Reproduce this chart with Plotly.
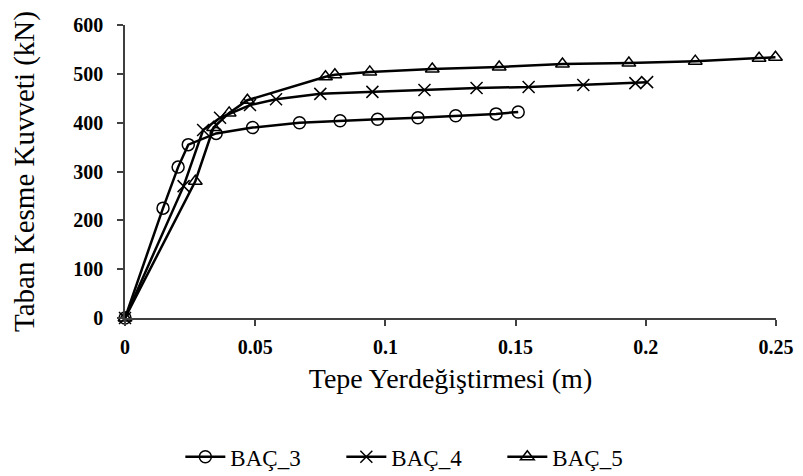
import plotly.graph_objects as go

# Data
bac3_x = [0, 0.0146, 0.0204, 0.0243, 0.035, 0.049, 0.067, 0.0826, 0.097, 0.1125, 0.127, 0.1425, 0.151]
bac3_y = [0, 225, 309, 355, 378, 390, 400, 404, 407, 410, 414, 418, 422]

bac4_x = [0, 0.0225, 0.030, 0.0365, 0.048, 0.058, 0.075, 0.095, 0.115, 0.135, 0.155, 0.176, 0.196, 0.2005]
bac4_y = [0, 270, 385, 410, 436, 448, 459, 463, 467, 471, 473, 477, 481, 483]

bac5_x = [0, 0.027, 0.034, 0.040, 0.047, 0.077, 0.0806, 0.094, 0.118, 0.1437, 0.168, 0.1935, 0.219, 0.2435, 0.2498]
bac5_y = [0, 280, 390, 420, 446, 494, 498, 504, 510, 514, 520, 522, 526, 532, 534]

names = ["BAÇ_3", "BAÇ_4", "BAÇ_5"]
symbols = ["circle-open", "x-thin-open", "triangle-up-open"]

x_ticks = [0, 0.05, 0.1, 0.15, 0.2, 0.25]
x_ticklabels = ["0", "0.05", "0.1", "0.15", "0.2", "0.25"]
y_ticks = [0, 100, 200, 300, 400, 500, 600]
y_ticklabels = ["0", "100", "200", "300", "400", "500", "600"]

FONT = "Liberation Serif"

fig = go.Figure()
for xs, ys, nm, sym in zip([bac3_x, bac4_x, bac5_x], [bac3_y, bac4_y, bac5_y], names, symbols):
    fig.add_trace(go.Scatter(
        x=xs, y=ys, name=nm, mode="lines+markers",
        line=dict(color="black", width=2.5),
        marker=dict(symbol=sym, size=12, color="black",
                    line=dict(color="black", width=1.5)),
        cliponaxis=False,
    ))

fig.update_layout(
    width=803, height=476,
    margin=dict(l=117, r=35, t=17, b=166, autoexpand=False),
    paper_bgcolor="white", plot_bgcolor="white",
    font=dict(family=FONT, color="black"),
    showlegend=True,
    legend=dict(orientation="h", x=0.085, xanchor="left", y=-0.474, yanchor="middle",
                font=dict(family=FONT, size=23, color="black"),
                entrywidth=106, entrywidthmode="pixels", itemwidth=40),
)

fig.update_xaxes(
    range=[0, 0.25], tickvals=x_ticks, ticktext=["<b>%s</b>" % t for t in x_ticklabels],
    showgrid=False, zeroline=False, showline=True, linecolor="#404040", linewidth=1.5,
    ticks="outside", ticklen=6, tickcolor="#404040", tickwidth=1.5,
    tickfont=dict(family=FONT, size=20, color="black"),
    ticklabelstandoff=4,
    title=dict(text="Tepe Yerdeğiştirmesi (m)", font=dict(family=FONT, size=28, color="black"), standoff=12),
)
fig.update_yaxes(
    range=[0, 600], tickvals=y_ticks, ticktext=["<b>%s</b>" % t for t in y_ticklabels],
    showgrid=False, zeroline=False, showline=True, linecolor="#404040", linewidth=1.5,
    ticks="outside", ticklen=6, tickcolor="#404040", tickwidth=1.5,
    tickfont=dict(family=FONT, size=20, color="black"),
    ticklabelstandoff=10,
    title=dict(text="Taban Kesme Kuvveti (kN)", font=dict(family=FONT, size=29, color="black"), standoff=38),
)

fig.write_html("out.html")
